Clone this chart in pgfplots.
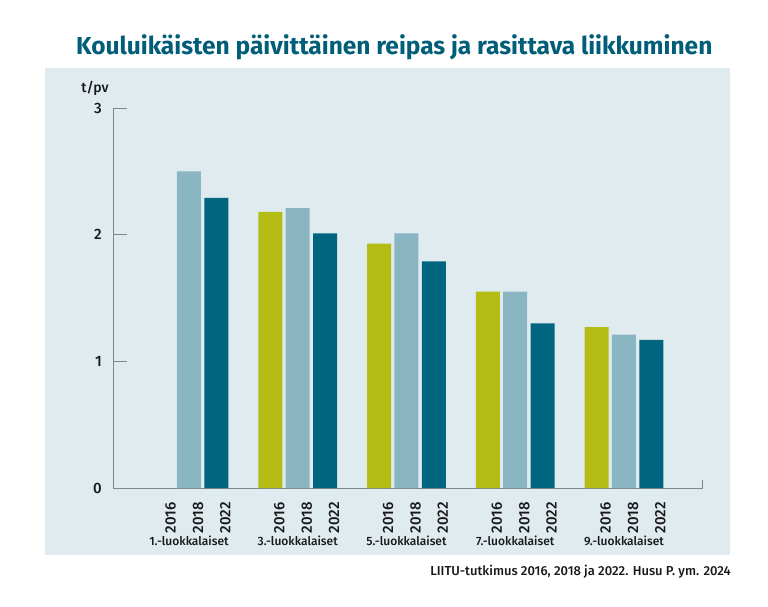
\documentclass[border=0pt]{standalone}
\usepackage{fontspec}
\setmainfont{Fira Sans}[UprightFont={* Medium}, BoldFont={* Bold}]
\usepackage{pgfplots}
\pgfplotsset{compat=1.18}
\definecolor{panel}{RGB}{223,235,239}
\definecolor{olive}{RGB}{181,189,20}
\definecolor{lblue}{RGB}{138,182,196}
\definecolor{teal}{RGB}{0,102,128}
\definecolor{titlec}{RGB}{0,94,120}
\definecolor{axisc}{RGB}{125,135,140}
\definecolor{txt}{RGB}{25,25,25}
\begin{document}
\begin{tikzpicture}
\path[use as bounding box, fill=white] (-113.3bp,-119bp) rectangle (654.7bp,488bp);
\fill[panel] (-68.3bp,-67bp) rectangle (616.7bp,420bp);
\begin{axis}[
  scale only axis,
  width=589.4bp, height=380bp,
  xmin=-0.696, xmax=4.724,
  ymin=0, ymax=3,
  axis x line*=bottom, axis y line*=left,
  axis line style={axisc, line width=0.9pt},
  ytick={0,1,2,3},
  yticklabel style={font=\fontsize{15bp}{17bp}\selectfont, text=txt, xshift=-8bp},
  /pgf/number format/assume math mode=true,
  tick align=inside,
  major tick length=14bp,
  ytick style={axisc, line width=0.9pt},
  xtick style={draw=none},
  xtick={-0.251,0,0.251, 0.749,1,1.251, 1.749,2,2.251, 2.749,3,3.251, 3.749,4,4.251},
  xticklabels={2016,2018,2022,2016,2018,2022,2016,2018,2022,2016,2018,2022,2016,2018,2022},
  xticklabel style={rotate=90, anchor=east, inner sep=0pt, yshift=-9bp, font=\fontsize{15bp}{17bp}\selectfont, text=txt},
  ybar, bar width=24bp, bar shift=0pt,
  clip=false,
]
\addplot[fill=olive, draw=none] coordinates {(0.749,2.18) (1.749,1.93) (2.749,1.55) (3.749,1.27)};
\addplot[fill=lblue, draw=none] coordinates {(0,2.50) (1,2.21) (2,2.01) (3,1.55) (4,1.21)};
\addplot[fill=teal, draw=none] coordinates {(0.251,2.29) (1.251,2.01) (2.251,1.79) (3.251,1.30) (4.251,1.17)};
\draw[axisc, line width=0.9pt] (axis cs:4.724,0) -- ([yshift=8bp]axis cs:4.724,0);
\node[font=\fontsize{12bp}{15bp}\selectfont, text=txt, yshift=-53bp] at (axis cs:0,0) {1.-luokkalaiset};
\node[font=\fontsize{12bp}{15bp}\selectfont, text=txt, yshift=-53bp] at (axis cs:1,0) {3.-luokkalaiset};
\node[font=\fontsize{12bp}{15bp}\selectfont, text=txt, yshift=-53bp] at (axis cs:2,0) {5.-luokkalaiset};
\node[font=\fontsize{12bp}{15bp}\selectfont, text=txt, yshift=-53bp] at (axis cs:3,0) {7.-luokkalaiset};
\node[font=\fontsize{12bp}{15bp}\selectfont, text=txt, yshift=-53bp] at (axis cs:4,0) {9.-luokkalaiset};
\end{axis}
\node[font=\fontsize{14bp}{16bp}\selectfont, text=txt] at (-18.3bp,400bp) {t/pv};
\node[font=\fontsize{24.5bp}{28bp}\selectfont\bfseries, text=titlec] at (281bp,441bp) {Kouluikäisten päivittäinen reipas ja rasittava liikkuminen};
\node[font=\fontsize{13bp}{15bp}\selectfont, text=txt, anchor=east, inner sep=0pt] at (617.7bp,-84bp) {LIITU-tutkimus 2016, 2018 ja 2022. Husu P. ym. 2024};
\end{tikzpicture}
\end{document}
